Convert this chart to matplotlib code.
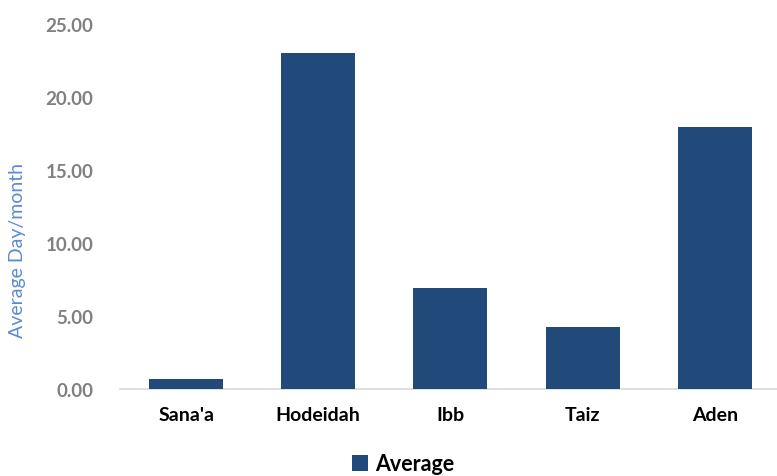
import matplotlib
matplotlib.use("Agg")
import matplotlib.pyplot as plt
from matplotlib.patches import Patch

plt.rcParams['font.family'] = ['Lato', 'DejaVu Sans']

regions = ["Sana'a", "Hodeidah", "Ibb", "Taiz", "Aden"]
average_days = [0.66, 23.0, 6.9, 4.25, 17.95]
y_ticks = [0, 5, 10, 15, 20, 25]

bar_color = "#214A7B"
W, H = 777, 477
fig = plt.figure(figsize=(W / 100, H / 100), dpi=100)
ax = fig.add_axes([120 / W, 1 - 390 / H, (777 - 120) / W, (390 - 25) / H])

x = list(range(len(regions)))
ax.bar(x, average_days, width=0.56, color=bar_color, zorder=3)

ax.set_xlim(-0.5, 4.47)
ax.set_ylim(0, 25)
ax.set_yticks(y_ticks)
ax.set_yticklabels([f"{v:.2f}" for v in y_ticks], fontsize=13.5,
                   fontweight="bold", color="#808080")
ax.set_xticks(x)
ax.set_xticklabels(regions, fontsize=14, fontweight="bold", color="black")
ax.tick_params(axis="both", length=0)
ax.tick_params(axis="y", pad=19)
ax.tick_params(axis="x", pad=12)

for side in ("top", "right", "left"):
    ax.spines[side].set_visible(False)
ax.spines["bottom"].set_color("#D9D9D9")
ax.spines["bottom"].set_linewidth(1.2)

fig.text(18 / W, 1 - 250 / H, "Average Day/month", rotation=90,
         ha="center", va="center", fontsize=14, color="#5B8BD0")

handle = Patch(facecolor=bar_color, edgecolor="none")
fig.legend([handle], ["Average"], loc="center", bbox_to_anchor=(403 / W, 1 - 465 / H),
           frameon=False, prop={"size": 15.5, "weight": "bold"},
           handlelength=0.75, handleheight=0.75, handletextpad=0.3)

fig.savefig("out.png", dpi=100)
